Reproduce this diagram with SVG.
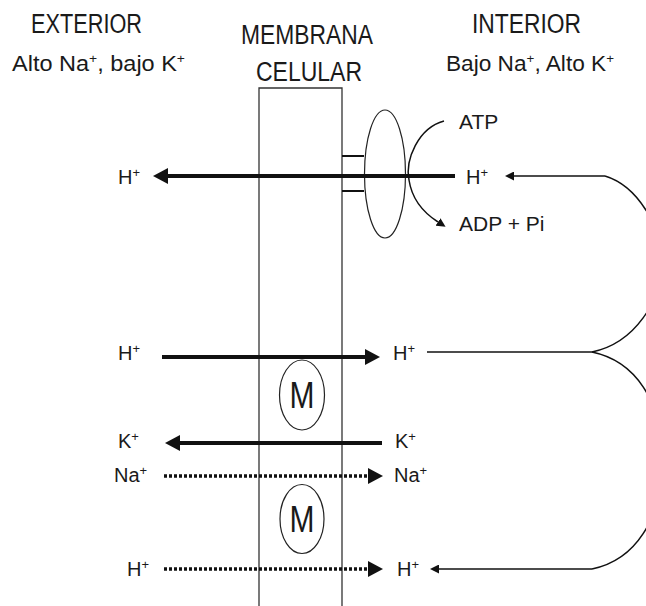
<svg xmlns="http://www.w3.org/2000/svg" width="646" height="606" viewBox="0 0 646 606">
<defs>
<style>
text{font-family:"Liberation Sans",Arial,sans-serif;fill:#1a1a1a}
.hd{font-size:27px}
.sub{font-size:22px}
.ion{font-size:20px}
.lab{font-size:21px}
.sup{font-size:13px}
.mem{fill:none;stroke:#333;stroke-width:1.3}
.thick{fill:none;stroke:#111;stroke-width:4}
.dot{fill:none;stroke:#111;stroke-width:3.5;stroke-dasharray:3 2}
.thin{fill:none;stroke:#111;stroke-width:1.5}
.ell{fill:none;stroke:#222;stroke-width:1.2}
</style>
<marker id="big" markerUnits="userSpaceOnUse" viewBox="0 -8 15 16" refX="0" refY="0" markerWidth="15" markerHeight="16" orient="auto">
<path d="M0,-8 L15,0 L0,8 z" fill="#111" stroke="none"/>
</marker>
<marker id="small" markerUnits="userSpaceOnUse" viewBox="0 -4.5 9 9" refX="0" refY="0" markerWidth="9" markerHeight="9" orient="auto">
<path d="M0,-4.5 L9,0 L0,4.5 z" fill="#111" stroke="none"/>
</marker>
</defs>
<rect width="646" height="606" fill="#fff"/>

<g id="headers">
<text class="hd" x="31" y="33" textLength="111" lengthAdjust="spacingAndGlyphs">EXTERIOR</text>
<text class="sub" x="12" y="71" textLength="173" lengthAdjust="spacingAndGlyphs">Alto Na<tspan class="sup" dy="-8">+</tspan><tspan dy="8">, bajo K</tspan><tspan class="sup" dy="-8">+</tspan></text>
<text class="hd" x="241" y="44" textLength="132" lengthAdjust="spacingAndGlyphs">MEMBRANA</text>
<text class="hd" x="256" y="81" textLength="106" lengthAdjust="spacingAndGlyphs">CELULAR</text>
<text class="hd" x="472" y="33" textLength="109" lengthAdjust="spacingAndGlyphs">INTERIOR</text>
<text class="sub" x="446" y="71" textLength="168" lengthAdjust="spacingAndGlyphs">Bajo Na<tspan class="sup" dy="-8">+</tspan><tspan dy="8">, Alto K</tspan><tspan class="sup" dy="-8">+</tspan></text>
</g>

<g id="membrane">
<path class="mem" d="M259,606 V88 H342 V606"/>
</g>

<g id="pump">
<line x1="342" y1="156" x2="364" y2="156" stroke="#111" stroke-width="2"/>
<line x1="342" y1="191" x2="364" y2="191" stroke="#111" stroke-width="2"/>
<ellipse class="ell" cx="385" cy="174" rx="20.5" ry="64"/>
</g>

<g id="labels">
<text class="ion" x="118" y="184">H<tspan class="sup" dy="-7">+</tspan></text>
<text class="ion" x="466" y="184">H<tspan class="sup" dy="-7">+</tspan></text>
<text class="lab" x="459" y="129">ATP</text>
<text class="lab" x="459" y="231">ADP + Pi</text>
<text class="ion" x="118" y="360">H<tspan class="sup" dy="-7">+</tspan></text>
<text class="ion" x="393" y="360">H<tspan class="sup" dy="-7">+</tspan></text>
<text class="ion" x="118" y="448">K<tspan class="sup" dy="-7">+</tspan></text>
<text class="ion" x="395" y="448">K<tspan class="sup" dy="-7">+</tspan></text>
<text class="ion" x="114" y="482">Na<tspan class="sup" dy="-7">+</tspan></text>
<text class="ion" x="394" y="482">Na<tspan class="sup" dy="-7">+</tspan></text>
<text class="ion" x="127" y="576">H<tspan class="sup" dy="-7">+</tspan></text>
<text class="ion" x="397" y="576">H<tspan class="sup" dy="-7">+</tspan></text>
</g>

<g id="carrier1">
<ellipse class="ell" cx="302" cy="395" rx="22.5" ry="35"/>
<text x="302" y="408" font-size="36" text-anchor="middle" textLength="25" lengthAdjust="spacingAndGlyphs">M</text>
</g>
<g id="carrier2">
<ellipse class="ell" cx="302" cy="519" rx="22" ry="34.5"/>
<text x="302" y="532" font-size="36" text-anchor="middle" textLength="25" lengthAdjust="spacingAndGlyphs">M</text>
</g>

<g id="connectors">
<path class="thick" d="M455,176 H168" marker-end="url(#big)"/>
<path class="thin" d="M444,121 C418,128 405,160 409,180 C412,200 424,213 438,222" marker-end="url(#small)"/>
<path class="thick" d="M162,357 H365" marker-end="url(#big)"/>
<path class="thick" d="M382,443 H180" marker-end="url(#big)"/>
<path class="dot" d="M164,476 H368" marker-end="url(#big)"/>
<path class="dot" d="M164,569 H368" marker-end="url(#big)"/>
<path class="thin" d="M605,176 H514" marker-end="url(#small)"/>
<path class="thin" d="M605,176 C638,186 662,228 662,262 C662,300 635,343 592,352"/>
<path class="thin" d="M427,352 H592"/>
<path class="thin" d="M592,352 C635,361 662,400 662,460 C662,520 635,560 592,569"/>
<path class="thin" d="M592,569 H439" marker-end="url(#small)"/>
</g>
</svg>
